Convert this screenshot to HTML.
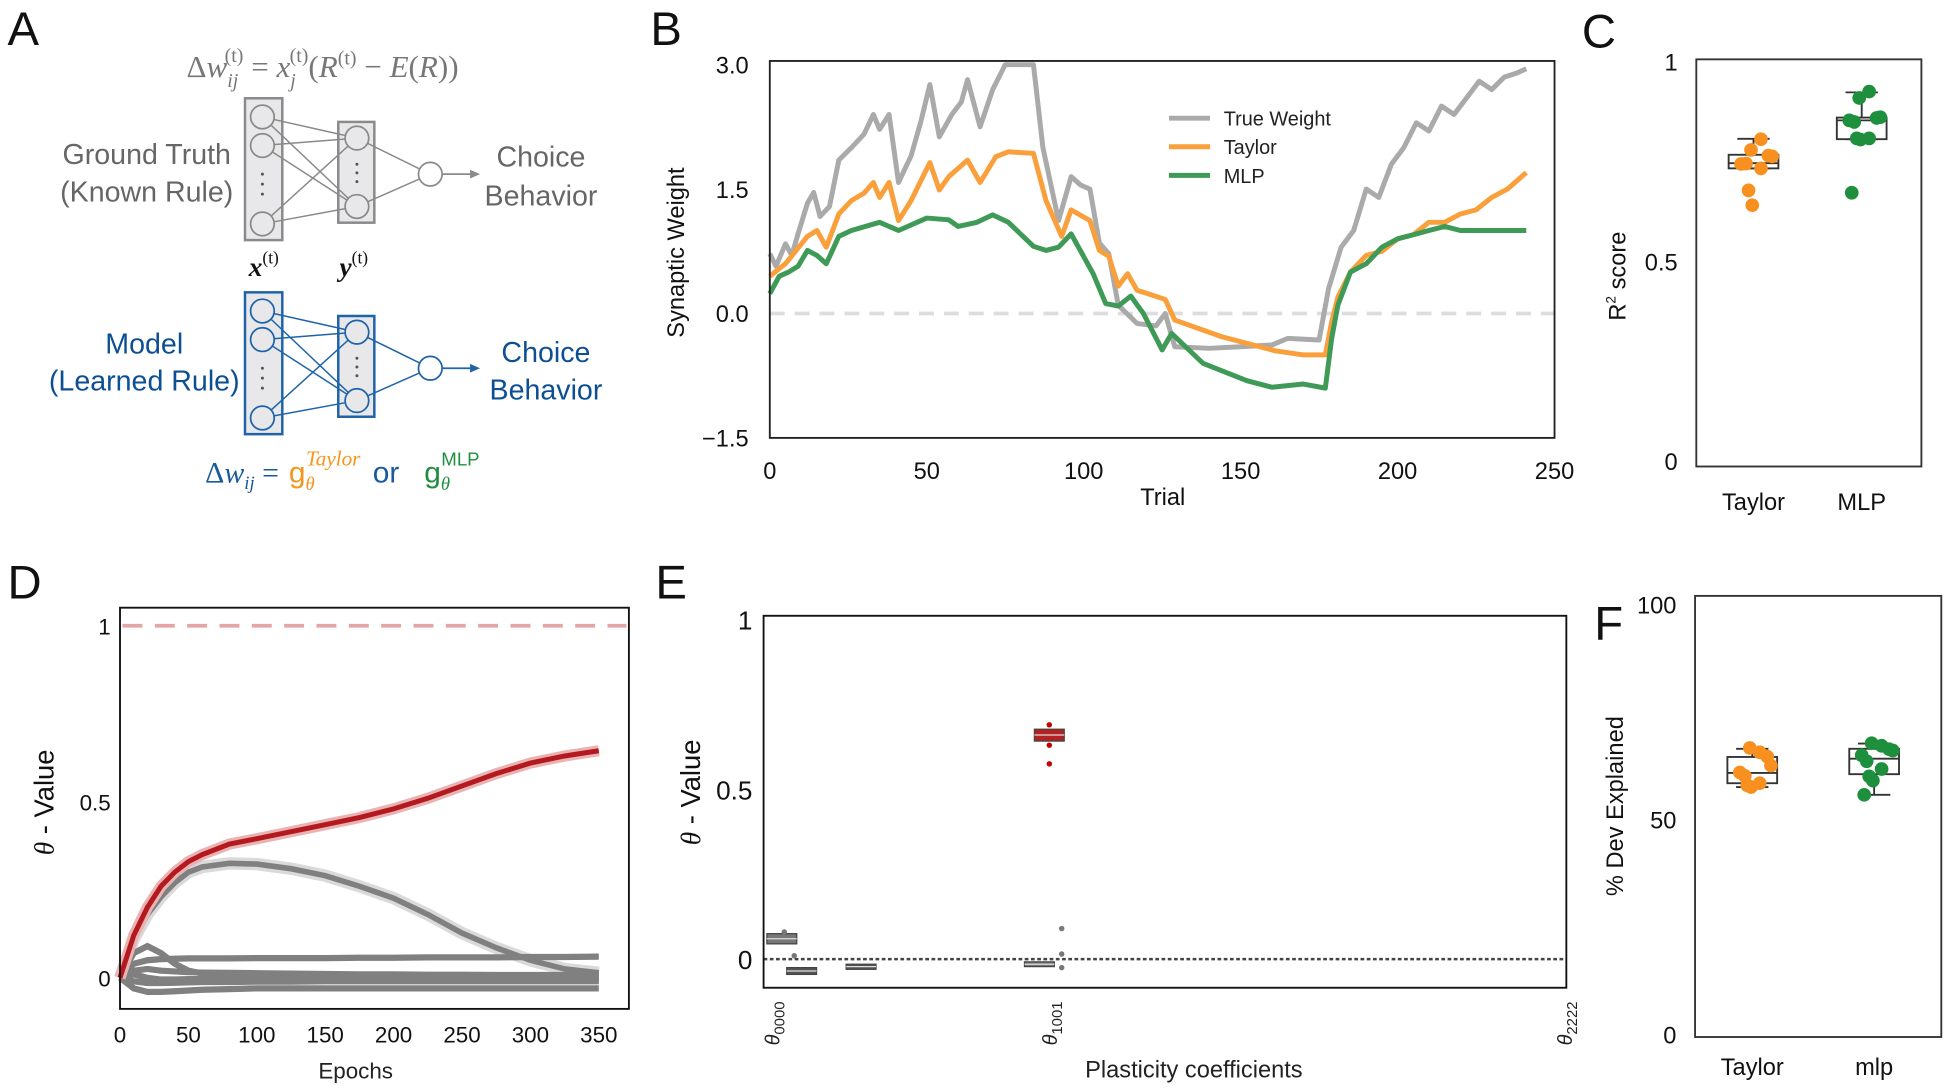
<!DOCTYPE html>
<html><head><meta charset="utf-8"><style>
html,body{margin:0;padding:0;background:#fff;}
svg{display:block;font-family:"Liberation Sans","DejaVu Sans",sans-serif;}
</style></head><body>
<svg id="fig" width="1950" height="1091" viewBox="0 0 1568 877" preserveAspectRatio="none" xmlns="http://www.w3.org/2000/svg">
<rect width="1568" height="877" fill="#fff"/>
<!-- Panel A -->
<g>
<text x="6" y="36" font-size="38" fill="#111">A</text>
<text x="150" y="62" font-size="25" fill="#777" font-family="Liberation Serif,serif">Δ<tspan font-style="italic">w</tspan><tspan font-size="16" dy="8" font-style="italic">ij</tspan><tspan font-size="16" dx="-11" dy="-20">(t)</tspan><tspan dy="12"> = </tspan><tspan font-style="italic">x</tspan><tspan font-size="16" dy="8" font-style="italic">j</tspan><tspan font-size="16" dx="-5" dy="-20">(t)</tspan><tspan dy="12">(</tspan><tspan font-style="italic">R</tspan><tspan font-size="16" dy="-10">(t)</tspan><tspan dy="10"> − </tspan><tspan font-style="italic">E</tspan>(<tspan font-style="italic">R</tspan>))</text>
<text x="118" y="132" font-size="23" fill="#666" text-anchor="middle">Ground Truth</text>
<text x="118" y="162" font-size="23" fill="#666" text-anchor="middle">(Known Rule)</text>
<text x="435" y="134" font-size="23" fill="#666" text-anchor="middle">Choice</text>
<text x="435" y="165" font-size="23" fill="#666" text-anchor="middle">Behavior</text>
<text x="116" y="284" font-size="23" fill="#0d4f93" text-anchor="middle">Model</text>
<text x="116" y="314" font-size="23" fill="#0d4f93" text-anchor="middle">(Learned Rule)</text>
<text x="439" y="291" font-size="23" fill="#0d4f93" text-anchor="middle">Choice</text>
<text x="439" y="321" font-size="23" fill="#0d4f93" text-anchor="middle">Behavior</text>
<text x="200" y="222" font-size="22" font-weight="bold" font-style="italic" fill="#111" font-family="Liberation Serif,serif">x<tspan font-size="14" font-weight="normal" font-style="normal" dy="-10">(t)</tspan></text>
<text x="273" y="222" font-size="22" font-weight="bold" font-style="italic" fill="#111" font-family="Liberation Serif,serif">y<tspan font-size="14" font-weight="normal" font-style="normal" dy="-10">(t)</tspan></text>
<text x="165" y="388" font-size="24" fill="#1a5a9a"><tspan font-family="Liberation Serif,serif">Δ<tspan font-style="italic">w</tspan><tspan font-size="15" dy="5" font-style="italic">ij</tspan><tspan dy="-5"> = </tspan></tspan><tspan fill="#f7941d" dx="2">g</tspan><tspan fill="#f7941d" font-size="15" dy="6" font-style="italic" font-family="Liberation Serif,serif">θ</tspan><tspan fill="#f7941d" font-size="17" dx="-7" dy="-20" font-style="italic" font-family="Liberation Serif,serif">Taylor</tspan><tspan dy="14" dx="10">or</tspan><tspan fill="#1f8f3f" dx="20">g</tspan><tspan fill="#1f8f3f" font-size="15" dy="6" font-style="italic" font-family="Liberation Serif,serif">θ</tspan><tspan fill="#1f8f3f" font-size="15" dx="-7" dy="-20">MLP</tspan></text>
<g id="netTop"></g>
<g id="netBot"></g>
</g>
<!-- Panel B -->
<g id="panelB">
<text x="523" y="36" font-size="38" fill="#111">B</text>
<text transform="translate(550,203) rotate(-90)" font-size="19" text-anchor="middle" fill="#111">Synaptic Weight</text>
<text x="935" y="406" font-size="19" text-anchor="middle" fill="#111">Trial</text>
</g>
<!-- Panel C -->
<g id="panelC">
<text x="1272" y="38" font-size="38" fill="#111">C</text>
<text transform="translate(1307,222) rotate(-90)" font-size="19" text-anchor="middle" fill="#111">R<tspan font-size="11" dy="-8">2</tspan><tspan dy="8"> score</tspan></text>
</g>
<!-- Panel D -->
<g id="panelD">
<text x="6" y="481" font-size="38" fill="#111">D</text>
<text transform="translate(43,645) rotate(-90)" font-size="22" text-anchor="middle" fill="#111"><tspan font-style="italic" font-family="Liberation Serif,serif">θ</tspan> - Value</text>
<text x="286" y="867" font-size="18" text-anchor="middle" fill="#222">Epochs</text>
</g>
<!-- Panel E -->
<g id="panelE">
<text x="527" y="481" font-size="38" fill="#111">E</text>
<text transform="translate(563,637) rotate(-90)" font-size="22" text-anchor="middle" fill="#111"><tspan font-style="italic" font-family="Liberation Serif,serif">θ</tspan> - Value</text>
<text x="960" y="866" font-size="19" text-anchor="middle" fill="#222">Plasticity coefficients</text>
</g>
<!-- Panel F -->
<g id="panelF">
<text x="1282" y="514" font-size="38" fill="#111">F</text>
<text transform="translate(1305,648) rotate(-90)" font-size="19" text-anchor="middle" fill="#111">% Dev Explained</text>
</g>
</svg>
<script>
// ---------- Panel B data ----------
const grayTrials=[0,2,5,7,9,12,14,16,19,22,26,30,33,35,38,41,45,48,51,54,58,61,63,67,71,75,84,87,92,96,99,102,105,108,111,117,123,126,129,140,150,160,165,175,178,182,186,190,194,198,202,206,210,214,218,222,226,230,234,238,241];
const grayValues=[0.72,0.57,0.84,0.7,0.96,1.33,1.46,1.17,1.29,1.85,2.0,2.16,2.4,2.22,2.4,1.58,1.9,2.3,2.76,2.13,2.4,2.55,2.82,2.25,2.7,3.0,3.0,2.0,1.12,1.65,1.55,1.5,0.85,0.72,0.1,-0.12,-0.15,0.0,-0.4,-0.42,-0.4,-0.38,-0.3,-0.32,0.3,0.8,1.0,1.5,1.4,1.8,2.0,2.3,2.2,2.5,2.4,2.6,2.8,2.7,2.85,2.9,2.95];
const taylorTrials=[0,5,12,15,18,22,26,30,33,35,38,41,45,51,54,57,63,67,72,76,84,88,93,96,102,105,108,111,114,117,126,129,144,161,170,177,179,181,185,190,195,200,205,210,215,220,225,230,235,241];
const taylorValues=[0.45,0.6,0.93,1.0,0.8,1.2,1.36,1.45,1.58,1.4,1.58,1.12,1.36,1.82,1.49,1.65,1.85,1.58,1.89,1.95,1.93,1.36,0.93,1.25,1.12,0.76,0.69,0.33,0.48,0.28,0.17,-0.08,-0.28,-0.45,-0.5,-0.5,-0.1,0.2,0.5,0.7,0.75,0.9,0.95,1.1,1.1,1.2,1.25,1.4,1.5,1.7];
const mlpTrials=[0,3,6,9,12,15,18,22,26,35,41,50,57,60,66,71,76,84,88,92,96,103,107,111,115,119,125,128,138,152,160,170,177,179,181,185,190,195,200,205,210,215,220,230,241];
const mlpValues=[0.24,0.45,0.5,0.57,0.76,0.7,0.6,0.93,1.0,1.1,1.0,1.15,1.13,1.05,1.1,1.19,1.1,0.81,0.76,0.8,0.96,0.48,0.12,0.09,0.21,0.0,-0.44,-0.24,-0.6,-0.81,-0.89,-0.85,-0.9,-0.3,0.1,0.5,0.6,0.8,0.9,0.95,1.0,1.05,1.0,1.0,1.0];
const bYTicks=[3.0,1.5,0.0,-1.5];
const bYTickLabels=["3.0","1.5","0.0","−1.5"];
const bXTicks=[0,50,100,150,200,250];
const bLegend=["True Weight","Taylor","MLP"];
// ---------- Panel C data ----------
const cCategories=["Taylor","MLP"];
const cTaylorPoints=[0.806,0.779,0.765,0.763,0.744,0.745,0.733,0.678,0.641];
const cMlpPoints=[0.925,0.909,0.859,0.861,0.853,0.849,0.808,0.808,0.805,0.672];
const cBoxTaylor=[0.733,0.746,0.767,0.733,0.807];
const cBoxMlp=[0.806,0.853,0.86,0.806,0.923];
const cYTicks=[1,0.5,0];
const cYTickLabels=["1","0.5","0"];
// ---------- Panel D data ----------
const dEpochs=[0,10,20,30,40,50,60,80,100,125,150,175,200,225,250,275,300,325,350];
const dRed=[0,0.12,0.2,0.26,0.3,0.33,0.35,0.38,0.395,0.415,0.435,0.455,0.48,0.51,0.545,0.58,0.61,0.63,0.645];
const dHump=[0,0.11,0.18,0.23,0.27,0.3,0.315,0.325,0.323,0.31,0.29,0.26,0.226,0.18,0.127,0.085,0.05,0.025,0.014];
const dSmallHump=[0,0.07,0.09,0.07,0.04,0.02,0.012,0.008,0.006,0.005,0.004,0.003,0.002,0.002,0.001,0.001,0,0,0];
const dFlat=[0,0.04,0.05,0.053,0.054,0.055,0.055,0.055,0.056,0.056,0.056,0.057,0.057,0.058,0.058,0.058,0.059,0.059,0.06];
const dNear1=[0,0.02,0.025,0.02,0.018,0.016,0.015,0.014,0.013,0.012,0.011,0.01,0.01,0.009,0.009,0.008,0.008,0.008,0.008];
const dNear2=[0,-0.01,-0.015,-0.015,-0.014,-0.013,-0.012,-0.012,-0.011,-0.011,-0.01,-0.01,-0.01,-0.01,-0.01,-0.01,-0.01,-0.01,-0.01];
const dNear3=[0,-0.03,-0.04,-0.04,-0.038,-0.036,-0.034,-0.032,-0.03,-0.03,-0.03,-0.03,-0.03,-0.03,-0.03,-0.03,-0.03,-0.03,-0.03];
const dNear4=[0,0.01,0.0,-0.005,-0.005,-0.004,-0.004,-0.003,-0.003,-0.003,-0.002,-0.002,-0.002,-0.002,-0.002,-0.002,-0.002,-0.002,-0.002];
const dTrueValue=1;
const dXTicks=[0,50,100,150,200,250,300,350];
const dYTicks=[1,0.5,0];
const dYTickLabels=["1","0.5","0"];
// ---------- Panel E data ----------
const eBoxIndex=[1,3,9,27,28];
const eBoxQ1=[0.045,-0.045,-0.03,-0.022,0.642];
const eBoxQ3=[0.075,-0.025,-0.015,-0.008,0.677];
const eBoxMed=[0.06,-0.035,-0.022,-0.015,0.66];
const eBoxColor=["#777","#555","#555","#777","#b22222"];
const eOutlierIndex=[28,28,28,29,29,29,1,2];
const eOutlierValue=[0.575,0.63,0.69,0.09,0.015,-0.025,0.08,0.01];
const eXTickIndex=[0,28,80];
const eXTickSubs=["0000","1001","2222"];
const eYTicks=[1,0.5,0];
const eYTickLabels=["1","0.5","0"];
// ---------- Panel F data ----------
const fCategories=["Taylor","mlp"];
const fTaylorPoints=[65.7,66.7,64.7,62.6,61.0,60.2,58.5,58.0,57.6];
const fMlpPoints=[67.2,67.8,66.4,66.1,65.0,63.6,61.8,60.1,59.1,55.8];
const fBoxTaylor=[58.5,60.9,64.6,57.6,66.5];
const fBoxMlp=[60.6,64.2,66.5,55.8,67.7];
const fYTicks=[100,50,0];
const fYTickLabels=["100","50","0"];

const NS="http://www.w3.org/2000/svg";
function mk(tag,attrs,parent){const e=document.createElementNS(NS,tag);for(const k in attrs)e.setAttribute(k,attrs[k]);parent.appendChild(e);return e;}
function pathFrom(xs,ys,fx,fy){return xs.map((x,i)=>(i?"L":"M")+fx(x).toFixed(1)+","+fy(ys[i]).toFixed(1)).join(" ");}

function drawNet(g,color,fill,yOff){
  const inY=[94,117,180].map(v=>v+yOff), hidY=[111,166].map(v=>v+yOff), outY=140+yOff;
  let r=mk('rect',{x:197,y:79+yOff,width:30,height:114,fill:fill,stroke:color,'stroke-width':2},g);
  
  r=mk('rect',{x:272,y:98+yOff,width:29,height:81,fill:fill,stroke:color,'stroke-width':2},g);
  
  inY.forEach(a=>hidY.forEach(b=>mk('line',{x1:211,y1:a,x2:287,y2:b,stroke:color,'stroke-width':1.2},g)));
  hidY.forEach(b=>mk('line',{x1:287,y1:b,x2:346,y2:outY,stroke:color,'stroke-width':1.2},g));
  inY.forEach(a=>{const c=mk('circle',{cx:211,cy:a,r:9.5,fill:fill,stroke:color,'stroke-width':1.4},g);});
  hidY.forEach(b=>{const c=mk('circle',{cx:287,cy:b,r:9.5,fill:fill,stroke:color,'stroke-width':1.4},g);});
  const o=mk('circle',{cx:346,cy:outY,r:9.5,fill:'#fff',stroke:color,'stroke-width':1.4},g);
  
  mk('line',{x1:356,y1:outY,x2:380,y2:outY,stroke:color,'stroke-width':1.4},g);
  mk('path',{d:`M386,${outY} L378,${outY-3.5} L378,${outY+3.5} Z`,fill:color},g);
  [140,148,156].forEach(d=>mk('circle',{cx:211,cy:d+yOff,r:1.2,fill:'#555'},g));
  [132,139,146].forEach(d=>mk('circle',{cx:287,cy:d+yOff,r:1.2,fill:'#555'},g));
}
drawNet(document.getElementById('netTop'),'#8a8a8a','#e8e8ea',0);
drawNet(document.getElementById('netBot'),'#1f64a8','#e8e8ea',156);

(function(){
  const g=document.getElementById('panelB');
  const X0=619,X1=1250,Y0=49,Y1=352;
  const x=t=>X0+t*(X1-X0)/250, y=v=>252-v*100/1.5;
  let zl=mk('line',{x1:X0,y1:y(0),x2:X1,y2:y(0),stroke:'#dddddd','stroke-width':3,'stroke-dasharray':'12,8'},g);
  
  const series=[[grayTrials,grayValues,'#aaaaaa','true-weight-line'],[taylorTrials,taylorValues,'#f9a03c','taylor-line'],[mlpTrials,mlpValues,'#3e9a56','mlp-line']];
  series.forEach(s=>{const p=mk('path',{d:pathFrom(s[0],s[1],x,y),fill:'none',stroke:s[2],'stroke-width':4,'stroke-linejoin':'round'},g);});
  const fr=mk('rect',{x:X0,y:Y0,width:X1-X0,height:Y1-Y0,fill:'none',stroke:'#222','stroke-width':1.5},g);
  
  bYTicks.forEach((v,i)=>{const t=mk('text',{x:602,y:y(v)+7,'font-size':19,'text-anchor':'end',fill:'#111'},g);t.textContent=bYTickLabels[i];});
  bXTicks.forEach(v=>{const t=mk('text',{x:x(v),y:385,'font-size':19,'text-anchor':'middle',fill:'#111'},g);t.textContent=v;});
  const cols=['#aaaaaa','#f9a03c','#3e9a56'];
  bLegend.forEach((n,i)=>{const ly=95+i*23;
    const l=mk('line',{x1:940,y1:ly,x2:973,y2:ly,stroke:cols[i],'stroke-width':4},g);
    const t=mk('text',{x:984,y:ly+6,'font-size':16,fill:'#222'},g);t.textContent=n;});
})();

function boxPanel(g,prefix,X0,X1,Y0,Y1,yf,ticks,tickLabels,tickX,cats,catX,boxes,pts,labelY){
  const fr=mk('rect',{x:X0,y:Y0,width:X1-X0,height:Y1-Y0,fill:'none',stroke:'#333','stroke-width':1.5},g);
  
  ticks.forEach((v,i)=>{const t=mk('text',{x:tickX,y:yf(v)+7,'font-size':19,'text-anchor':'end',fill:'#111'},g);t.textContent=tickLabels[i];});
  const colors=['#f7901e','#1e8f3c'];
  cats.forEach((c,i)=>{const cx=catX[i],b=boxes[i],hw=20;
    const wl=mk('line',{x1:cx,y1:yf(b[3]),x2:cx,y2:yf(b[0]),stroke:'#333','stroke-width':1.5},g);
    const wh=mk('line',{x1:cx,y1:yf(b[2]),x2:cx,y2:yf(b[4]),stroke:'#333','stroke-width':1.5},g);
    mk('line',{x1:cx-13,y1:yf(b[4]),x2:cx+13,y2:yf(b[4]),stroke:'#333','stroke-width':1.5},g);
    mk('line',{x1:cx-13,y1:yf(b[3]),x2:cx+13,y2:yf(b[3]),stroke:'#333','stroke-width':1.5},g);
    const r=mk('rect',{x:cx-hw,y:yf(b[2]),width:2*hw,height:yf(b[0])-yf(b[2]),fill:'#fff',stroke:'#333','stroke-width':1.5},g);
    
    mk('line',{x1:cx-hw,y1:yf(b[1]),x2:cx+hw,y2:yf(b[1]),stroke:'#333','stroke-width':1.5},g);
    const offs=[6,-2,12,15,-10,-6,6,-4,-1,-8];
    pts[i].forEach((v,k)=>{const p=mk('circle',{cx:cx+offs[k%offs.length],cy:yf(v),r:5.5,fill:colors[i]},g);});
    const t=mk('text',{x:cx,y:labelY,'font-size':19,'text-anchor':'middle',fill:'#111'},g);t.textContent=c;
  });
}
boxPanel(document.getElementById('panelC'),'c',1364,1545,47.7,375,v=>371-v*321.5,cYTicks,cYTickLabels,1349,cCategories,[1410,1497],[cBoxTaylor,cBoxMlp],[cTaylorPoints,cMlpPoints],410);
boxPanel(document.getElementById('panelF'),'f',1363,1561,479,833.6,v=>832-v*3.46,fYTicks,fYTickLabels,1348,fCategories,[1409,1507],[fBoxTaylor,fBoxMlp],[fTaylorPoints,fMlpPoints],864);

(function(){
  const g=document.getElementById('panelD');
  const X0=96.5,X1=505.7,Y0=488.5,Y1=811;
  const x=e=>96.5+e*1.1, y=v=>786-v*283;
  const tl=mk('line',{x1:X0+2,y1:y(dTrueValue),x2:X1-2,y2:y(dTrueValue),stroke:'#e3a5a5','stroke-width':3,'stroke-dasharray':'16,10'},g);
  
  const grays=[[dNear1,'near-zero-line'],[dNear2,'near-zero-line'],[dNear3,'near-zero-line'],[dNear4,'near-zero-line'],[dFlat,'flat-line'],[dSmallHump,'small-hump-line']];
  const bh=mk('path',{d:pathFrom(dEpochs,dHump,x,y),fill:'none',stroke:'#dadada','stroke-width':10},g);
  
  grays.forEach(s=>{const p=mk('path',{d:pathFrom(dEpochs,s[0],x,y),fill:'none',stroke:'#808080','stroke-width':5},g);});
  const p=mk('path',{d:pathFrom(dEpochs,dHump,x,y),fill:'none',stroke:'#808080','stroke-width':4.5},g);
  
  const rb=mk('path',{d:pathFrom(dEpochs,dRed,x,y),fill:'none',stroke:'#eab3b3','stroke-width':9},g);
  
  const rl=mk('path',{d:pathFrom(dEpochs,dRed,x,y),fill:'none',stroke:'#b3191e','stroke-width':4},g);
  
  const fr=mk('rect',{x:X0,y:Y0,width:X1-X0,height:Y1-Y0,fill:'none',stroke:'#111','stroke-width':1.5},g);
  
  dYTicks.forEach((v,i)=>{const t=mk('text',{x:89,y:y(v)+7,'font-size':18,'text-anchor':'end',fill:'#111'},g);t.textContent=dYTickLabels[i];});
  dXTicks.forEach(v=>{const t=mk('text',{x:x(v),y:838,'font-size':18,'text-anchor':'middle',fill:'#111'},g);t.textContent=v;});
})();

(function(){
  const g=document.getElementById('panelE');
  const X0=614,X1=1259.5,Y0=495,Y1=794;
  const x=i=>620.7+i*(1258-620.7)/80, y=v=>771-v*273;
  const zl=mk('line',{x1:X0,y1:y(0),x2:X1,y2:y(0),stroke:'#444','stroke-width':2,'stroke-dasharray':'3,2'},g);
  
  eBoxIndex.forEach((idx,k)=>{const cx=x(idx);
    const r=mk('rect',{x:cx-12,y:y(eBoxQ3[k]),width:24,height:Math.max(3,y(eBoxQ1[k])-y(eBoxQ3[k])),fill:eBoxColor[k],stroke:'#444','stroke-width':1},g);
    
    mk('line',{x1:cx-12,y1:y(eBoxMed[k]),x2:cx+12,y2:y(eBoxMed[k]),stroke:'#ddd','stroke-width':1},g);});
  eOutlierIndex.forEach((idx,k)=>{const c=mk('circle',{cx:x(idx)+(idx===28?0:2),cy:y(eOutlierValue[k]),r:2.2,fill:eOutlierValue[k]>0.5?'#c00000':'#777'},g);});
  const fr=mk('rect',{x:X0,y:Y0,width:X1-X0,height:Y1-Y0,fill:'none',stroke:'#111','stroke-width':1.5},g);
  
  eYTicks.forEach((v,i)=>{const t=mk('text',{x:605,y:y(v)+8,'font-size':21,'text-anchor':'end',fill:'#111'},g);t.textContent=eYTickLabels[i];});
  eXTickIndex.forEach((idx,i)=>{const t=mk('text',{transform:`translate(${x(idx)+6},805) rotate(-90)`,'font-size':16,'text-anchor':'end',fill:'#222'},g);
    
    const a=document.createElementNS(NS,'tspan');a.setAttribute('font-style','italic');a.textContent='θ';t.appendChild(a);
    const b=document.createElementNS(NS,'tspan');b.setAttribute('font-size','12');b.setAttribute('dy','4');b.textContent=eXTickSubs[i];t.appendChild(b);});
})();
</script>
</body></html>
